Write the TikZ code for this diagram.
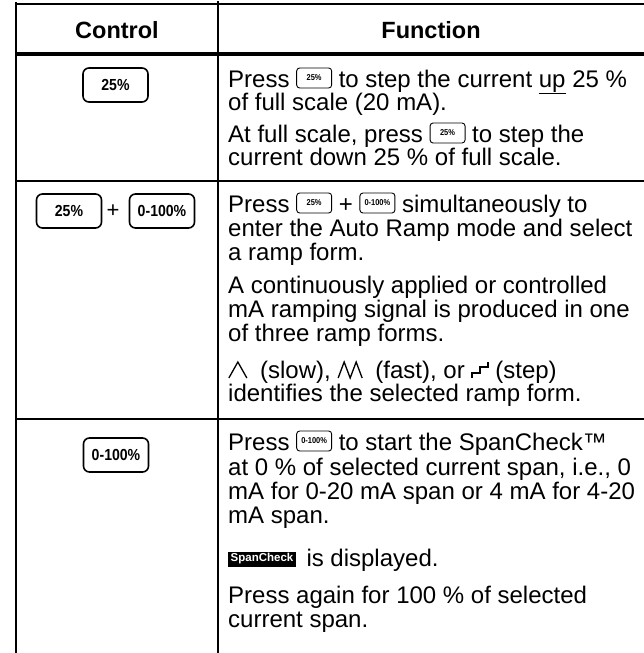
\documentclass[tikz,border=0pt]{standalone}
\usepackage{fontspec}
\usepackage{graphicx}
\setmainfont{Liberation Sans}
\tikzset{
  tline/.style={line width=2.2pt, line cap=rect},
  hline/.style={line width=3.4pt},
  txt/.style={anchor=base west, inner sep=0pt, font=\fontsize{24}{24}\selectfont},
  head/.style={anchor=center, inner sep=0pt, font=\fontsize{23.5}{23.5}\selectfont\bfseries},
  bigkey/.style={draw, line width=1.6pt, rounded corners=6pt, minimum width=65pt, minimum height=34pt, inner sep=0pt, anchor=center, font=\fontsize{16}{16}\selectfont\bfseries},
  ikeystyle/.style={draw, line width=0.9pt, rounded corners=3pt, minimum width=35pt, minimum height=20pt, inner sep=0pt, anchor=center, font=\fontsize{8.5}{8.5}\selectfont\bfseries},
  badge/.style={fill=black, text=white, inner xsep=2.5pt, inner ysep=0pt, minimum height=15pt, anchor=center, font=\fontsize{11.5}{11.5}\selectfont\bfseries},
  sym/.style={line width=1.3pt, line join=miter}
}
\newcommand\ikey[2]{\tikz[baseline=0pt]\node[ikeystyle] (#1) at (0pt,9pt) {\scalebox{0.88}[1]{#2}};}
\newcommand\slowsym{\tikz[baseline=0pt]\draw[sym] (0pt,0pt) -- (9pt,16pt) -- (18pt,0pt);}
\newcommand\fastsym{\tikz[baseline=0pt]\draw[sym] (0pt,0pt) -- (6pt,16pt) -- (12pt,0pt) -- (18pt,16pt) -- (24pt,0pt);}
\newcommand\stepsym{\tikz[baseline=0pt]\draw[line width=1.2pt] (0pt,0pt) -- (0pt,5pt) -- (8pt,5pt) -- (8pt,11pt) -- (16pt,11pt) -- (16pt,16pt);}
\newcommand\spanbadge{\tikz[baseline=0pt]\node[badge] (sc) at (0pt,7pt) {SpanCheck};}
\begin{document}
\begin{tikzpicture}[x=1pt,y=-1pt]
\useasboundingbox (0,0) rectangle (644,653);
\clip (0,0) rectangle (644,653);
% table rules
\draw[tline] (16,4) -- (670,4);
\draw[hline] (16,54) -- (670,54);
\draw[tline] (16,181) -- (670,181);
\draw[tline] (16,419) -- (670,419);
\draw[tline] (16,3) -- (16,680);
\draw[tline] (218,2) -- (218,680);
% header
\node[head] (hc) at (117,30) {Control};
\node[head] (hf) at (431,30) {Function};
% column 1 keys
\node[bigkey] (k1) at (115.5,85) {\scalebox{0.88}[1]{25\%}};
\node[bigkey] (k2a) at (69,211) {\scalebox{0.88}[1]{25\%}};
\node[inner sep=0pt, font=\fontsize{22}{22}\selectfont] (plus) at (113,211) {+};
\node[bigkey] (k2b) at (162,211) {\scalebox{0.88}[1]{0-100\%}};
\node[bigkey] (k3) at (116,455) {\scalebox{0.88}[1]{0-100\%}};
% row 1
\node[txt] (r1a) at (228,87) {Press \ikey{ia}{25\%} to step the current \underline{up} 25 \%};
\node[txt] (r1b) at (228,110) {of full scale (20 mA).};
\node[txt] (r1c) at (228,142) {At full scale, press \ikey{ib}{25\%} to step the};
\node[txt] (r1d) at (228,165) {current down 25 \% of full scale.};
% row 2
\node[txt] (r2a) at (228,212) {Press \ikey{ic}{25\%} + \ikey{id}{0-100\%} simultaneously to};
\node[txt] (r2b) at (228,236) {enter the Auto Ramp mode and select};
\node[txt] (r2c) at (228,260) {a ramp form.};
\node[txt] (r2d) at (228,293) {A continuously applied or controlled};
\node[txt] (r2e) at (228,317) {mA ramping signal is produced in one};
\node[txt] (r2f) at (228,341) {of three ramp forms.};
\node[txt] (r2g) at (228,378) {\slowsym\hspace{6pt} (slow), \fastsym\hspace{6pt} (fast), or \stepsym\ (step)};
\node[txt] (r2h) at (228,401) {identifies the selected ramp form.};
% row 3
\node[txt] (r3a) at (228,450) {Press \ikey{ie}{0-100\%} to start the SpanCheck™};
\node[txt] (r3b) at (228,475) {at 0 \% of selected current span, i.e., 0};
\node[txt] (r3c) at (228,499) {mA for 0-20 mA span or 4 mA for 4-20};
\node[txt] (r3d) at (228,523) {mA span.};
\node[txt] (r3e) at (228,566) {\spanbadge\hspace{4pt} is displayed.};
\node[txt] (r3f) at (228,603) {Press again for 100 \% of selected};
\node[txt] (r3g) at (228,627) {current span.};
\end{tikzpicture}
\end{document}
